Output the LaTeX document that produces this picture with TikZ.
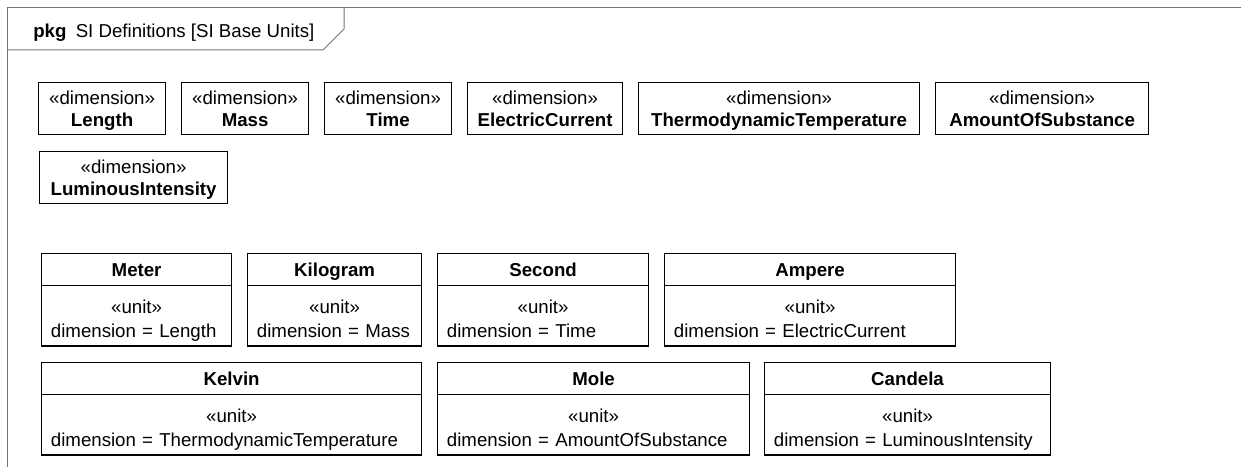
\documentclass[tikz,border=0pt]{standalone}
\usepackage{fontspec}
\setmainfont{Liberation Sans}
\usetikzlibrary{shapes.multipart}

\begin{document}
\begin{tikzpicture}[x=0.75pt, y=-0.75pt,
  pkgframe/.style={draw=black!55, line width=0.75pt},
  dimbox/.style={draw, rectangle, line width=0.9pt, inner sep=0pt,
    align=center, anchor=north west, font=\fontsize{14}{16.5}\selectfont},
  unitbox/.style={draw, rectangle split, rectangle split parts=2,
    line width=0.9pt, inner sep=0pt, align=center, anchor=north west,
    font=\fontsize{14}{17.75}\selectfont}]
\useasboundingbox (0,0) rectangle (1241,467);
% package frame and its name tab
\draw[pkgframe] (7,467) -- (7,8) -- (1241,8);
\draw[pkgframe] (7,50) -- (323,50) -- (344,29) -- (344,8);
\node[anchor=base west, inner sep=0pt, font=\fontsize{14}{17}\selectfont] (title) at (33,38)
  {\textbf{pkg}\hspace{7pt}SI Definitions [SI Base Units]};
% dimensions
\node[dimbox, text width=95.25pt] (length) at (38,82)
  {\rule{0pt}{16.25pt}«dimension»\\\textbf{Length}\rule[-6.25pt]{0pt}{6.25pt}};
\node[dimbox, text width=95.25pt] (mass) at (181,82)
  {\rule{0pt}{16.25pt}«dimension»\\\textbf{Mass}\rule[-6.25pt]{0pt}{6.25pt}};
\node[dimbox, text width=95.25pt] (time) at (324,82)
  {\rule{0pt}{16.25pt}«dimension»\\\textbf{Time}\rule[-6.25pt]{0pt}{6.25pt}};
\node[dimbox, text width=116.25pt] (current) at (467,82)
  {\rule{0pt}{16.25pt}«dimension»\\\textbf{ElectricCurrent}\rule[-6.25pt]{0pt}{6.25pt}};
\node[dimbox, text width=210.75pt] (temp) at (638,82)
  {\rule{0pt}{16.25pt}«dimension»\\\textbf{ThermodynamicTemperature}\rule[-6.25pt]{0pt}{6.25pt}};
\node[dimbox, text width=159.75pt] (amount) at (935,82)
  {\rule{0pt}{16.25pt}«dimension»\\\textbf{AmountOfSubstance}\rule[-6.25pt]{0pt}{6.25pt}};
\node[dimbox, text width=141pt] (lum) at (39,151)
  {\rule{0pt}{16.25pt}«dimension»\\\textbf{LuminousIntensity}\rule[-6.25pt]{0pt}{6.25pt}};
% units
\node[unitbox, text width=142.5pt] (meter) at (41,253)
  {\textbf{Meter}\rule[-6.6pt]{0pt}{23.25pt}
   \nodepart{two}\rule{0pt}{20.25pt}«unit»\\
   \makebox[\linewidth][l]{\hspace{7pt}dimension = Length\rule[-6.25pt]{0pt}{6.25pt}}};
\node[unitbox, text width=130.5pt] (kilogram) at (247,253)
  {\textbf{Kilogram}\rule[-6.6pt]{0pt}{23.25pt}
   \nodepart{two}\rule{0pt}{20.25pt}«unit»\\
   \makebox[\linewidth][l]{\hspace{7pt}dimension = Mass\rule[-6.25pt]{0pt}{6.25pt}}};
\node[unitbox, text width=158.25pt] (second) at (437,253)
  {\textbf{Second}\rule[-6.6pt]{0pt}{23.25pt}
   \nodepart{two}\rule{0pt}{20.25pt}«unit»\\
   \makebox[\linewidth][l]{\hspace{7pt}dimension = Time\rule[-6.25pt]{0pt}{6.25pt}}};
\node[unitbox, text width=218.25pt] (ampere) at (664,253)
  {\textbf{Ampere}\rule[-6.6pt]{0pt}{23.25pt}
   \nodepart{two}\rule{0pt}{20.25pt}«unit»\\
   \makebox[\linewidth][l]{\hspace{7pt}dimension = ElectricCurrent\rule[-6.25pt]{0pt}{6.25pt}}};
\node[unitbox, text width=285pt] (kelvin) at (41,362)
  {\textbf{Kelvin}\rule[-6.6pt]{0pt}{23.25pt}
   \nodepart{two}\rule{0pt}{20.25pt}«unit»\\
   \makebox[\linewidth][l]{\hspace{7pt}dimension = ThermodynamicTemperature\rule[-6.25pt]{0pt}{6.25pt}}};
\node[unitbox, text width=234pt] (mole) at (437,362)
  {\textbf{Mole}\rule[-6.6pt]{0pt}{23.25pt}
   \nodepart{two}\rule{0pt}{20.25pt}«unit»\\
   \makebox[\linewidth][l]{\hspace{7pt}dimension = AmountOfSubstance\rule[-6.25pt]{0pt}{6.25pt}}};
\node[unitbox, text width=214.5pt] (candela) at (764,362)
  {\textbf{Candela}\rule[-6.6pt]{0pt}{23.25pt}
   \nodepart{two}\rule{0pt}{20.25pt}«unit»\\
   \makebox[\linewidth][l]{\hspace{7pt}dimension = LuminousIntensity\rule[-6.25pt]{0pt}{6.25pt}}};
\end{tikzpicture}
\end{document}
